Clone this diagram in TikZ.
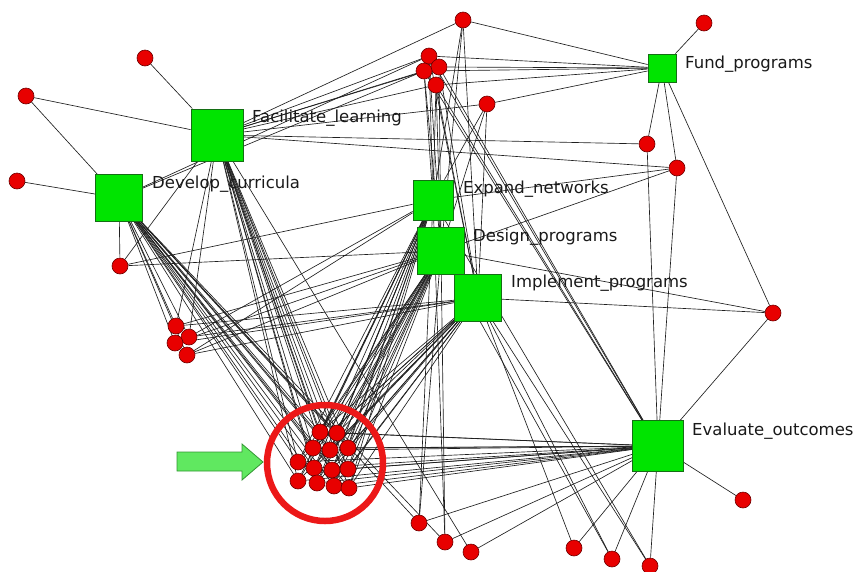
\documentclass[tikz,border=0pt]{standalone}
\usepackage{fontspec}
\setmainfont{DejaVu Sans}
\usetikzlibrary{calc}
\pgfdeclarelayer{bg}
\pgfsetlayers{bg,main}
\definecolor{sqgreen}{RGB}{0,228,0}
\definecolor{sqborder}{RGB}{20,110,20}
\definecolor{dotred}{RGB}{232,0,0}
\definecolor{dotborder}{RGB}{110,0,0}
\definecolor{ringred}{RGB}{236,24,24}
\definecolor{arrowgreen}{RGB}{96,232,96}
\definecolor{arrowborder}{RGB}{50,150,50}
\begin{document}
\begin{tikzpicture}[x=1pt,y=-1pt,
  sq/.style={draw=sqborder, fill=sqgreen, line width=0.8pt, rectangle, minimum size=#1, inner sep=0pt},
  dot/.style={draw=dotborder, fill=dotred, line width=0.6pt, circle, minimum size=16pt, inner sep=0pt},
  lbl/.style={anchor=base west, inner sep=0pt, font=\fontsize{16.5}{18}\selectfont, text=black!90},
  edge/.style={draw=black!88, line width=0.65pt}]
\useasboundingbox (0,0) rectangle (857,571);
% squares
\node[sq=52pt] (FL) at (217,135) {};
\node[sq=47pt] (DC) at (119,198) {};
\node[sq=40pt] (EN) at (433,200) {};
\node[sq=47pt] (DP) at (441,251) {};
\node[sq=47pt] (IP) at (478,298) {};
\node[sq=28pt] (FP) at (662,68) {};
\node[sq=51pt] (EO) at (658,446) {};
% labels
\node[lbl] (lFL) at (252,122) {Facilitate\_learning};
\node[lbl] (lDC) at (152,188) {Develop\_curricula};
\node[lbl] (lEN) at (463,193) {Expand\_networks};
\node[lbl] (lDP) at (473,241) {Design\_programs};
\node[lbl] (lIP) at (511,287) {Implement\_programs};
\node[lbl] (lFP) at (685,68) {Fund\_programs};
\node[lbl] (lEO) at (692,435) {Evaluate\_outcomes};
% ring and arrow
\node[draw=ringred, line width=6.5pt, circle, minimum size=116pt, inner sep=0pt] (ring) at (325,463) {};
\draw[fill=arrowgreen, draw=arrowborder, line width=0.8pt]
  (177,452) -- (242,452) -- (242,444) -- (263,462) -- (242,480) -- (242,471) -- (177,471) -- cycle;
% dots
\foreach \n/\x/\y in {a1/145/58, a2/26/96, a3/17/181, a4/120/266,
  t0/463/20, t1/429/56, t2/439/67, t3/424/71, t4/436/85, t5/487/104, t6/704/23, t7/647/144, t8/677/168,
  r1/773/313, r2/743/500,
  g1/176/326, g2/189/337, g3/175/343, g4/187/355,
  c1/320/432, c2/337/433, c3/313/448, c4/330/450, c5/348/448,
  c6/298/462, c7/314/468, c8/332/470, c9/348/469,
  c10/298/481, c11/317/483, c12/334/486, c13/349/488,
  b1/419/523, b2/445/542, b3/471/552, b4/574/548, b5/612/559, b6/650/566}
  {\node[dot] (\n) at (\x,\y) {};}
% edges
\begin{pgfonlayer}{bg}
\foreach \a/\b in {a1/FL, a2/FL, a2/DC, a3/DC, a4/DC, a4/FL, a4/DP, a4/EN,
  t0/FL, t0/FP, t0/DP, t0/IP, t0/EN,
  t1/FL, t1/FP, t1/EN, t1/DP, t1/IP, t1/EO, t1/DC,
  t2/FL, t2/FP, t2/DP, t2/IP, t2/EO,
  t3/FL, t3/FP, t3/EN, t3/DP, t3/EO, t3/DC,
  t4/FL, t4/FP, t4/EN, t4/DP, t4/IP, t4/EO,
  t5/FL, t5/FP, t5/EN, t5/DP, t5/IP,
  t6/FP, t7/FL, t7/FP, t7/EO,
  t8/FL, t8/FP, t8/EN, t8/DP, t8/EO,
  r1/FP, r1/EO, r1/IP, r1/DP, r2/EO,
  g1/DC, g1/FL, g1/DP, g1/IP, g2/DC, g2/EN, g2/IP, g2/FL,
  g3/DC, g3/DP, g3/IP, g4/DC, g4/DP, g4/IP, g4/EN,
  b1/EO, b1/DP, b1/EN, b1/DC, b2/EO, b2/DP, b2/EN, b2/DC,
  b3/EO, b3/FL, b4/EO, b4/IP, b5/EO, b5/IP, b5/DP, b6/EO, b6/IP, b6/EN}
  {\draw[edge] (\a) -- (\b);}
\foreach \c in {c1,c2,c3,c4,c5,c6,c7,c8,c9,c10,c11,c12,c13}
  {\foreach \s in {FL,DC,EN,DP,IP,EO} {\draw[edge] (\c) -- (\s);}}
\end{pgfonlayer}
\end{tikzpicture}
\end{document}
